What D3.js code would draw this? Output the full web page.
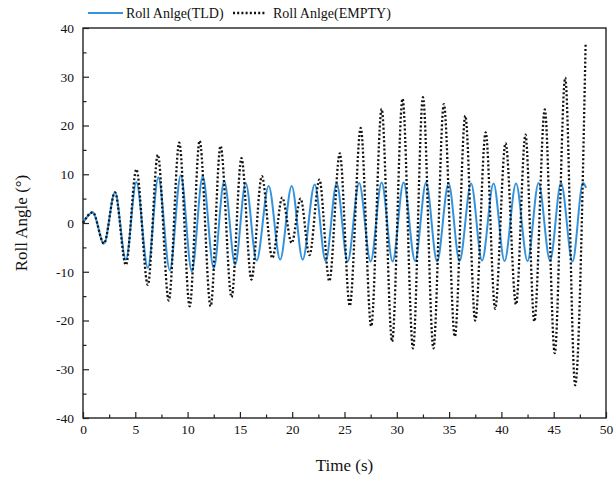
<!DOCTYPE html>
<html>
<head>
<meta charset="utf-8">
<script src="https://cdn.jsdelivr.net/npm/d3@7"></script>
<style>
  body { margin: 0; background: #fff; }
  svg { display: block; }
</style>
</head>
<body>
<div id="chart"></div>
<script>
// extrema (time in s, roll angle in degrees)
const tldTime = [0, 0.93, 2.0, 3.06, 4.1, 5.1, 6.2, 7.2, 8.3, 9.35, 10.4, 11.45, 12.5, 13.5, 14.55, 15.55,
  16.6, 17.75, 18.85, 19.95, 21.0, 22.15, 23.2, 24.25, 25.3, 26.4, 27.5, 28.55, 29.6, 30.65, 31.75,
  32.8, 33.85, 34.95, 36.0, 37.1, 38.15, 39.25, 40.3, 41.4, 42.5, 43.55, 44.65, 45.7, 46.8, 47.8, 48.1];
const tldAngle = [0, 2.2, -4.2, 6.3, -7.5, 8.4, -9.2, 9.4, -9.7, 9.8, -9.9, 9.6, -9.3, 8.6, -8.5, 8.2,
  -7.7, 7.6, -7.5, 7.6, -7.5, 7.9, -7.8, 8.1, -7.9, 8.2, -7.9, 8.3, -7.9, 8.3, -7.8,
  8.3, -7.9, 8.1, -7.8, 8.1, -7.7, 8.1, -7.8, 8.1, -7.8, 8.2, -7.7, 8.2, -7.9, 8.2, 7.2];

const emptyTime = [0, 0.93, 2.0, 3.06, 4.1, 5.1, 6.2, 7.15, 8.2, 9.2, 10.2, 11.15, 12.2, 13.15, 14.2, 15.15,
  16.1, 17.1, 18.1, 19.05, 19.95, 20.8, 21.65, 22.6, 23.55, 24.55, 25.5, 26.55, 27.55, 28.55, 29.55,
  30.55, 31.55, 32.5, 33.5, 34.5, 35.55, 36.55, 37.5, 38.5, 39.4, 40.4, 41.4, 42.3, 43.15, 44.15,
  45.1, 46.1, 47.05, 48.05];
const emptyAngle = [0, 2.2, -4.2, 6.3, -8.6, 11.0, -12.7, 14.0, -15.9, 16.5, -17.1, 16.9, -17.1, 15.8, -15.2, 13.3,
  -11.6, 9.6, -7.2, 5.2, -4.1, 5.0, -6.6, 8.9, -11.9, 14.3, -17.0, 19.5, -21.2, 23.4, -24.3,
  25.5, -25.7, 25.8, -25.7, 24.4, -23.3, 22.0, -20.0, 18.6, -17.6, 16.4, -16.7, 18.1, -20.2, 23.3,
  -26.7, 29.8, -33.3, 36.7];

const xTicks = [0, 5, 10, 15, 20, 25, 30, 35, 40, 45, 50];
const yTicks = [-40, -30, -20, -10, 0, 10, 20, 30, 40];
const seriesNames = ["Roll Anlge(TLD)", "Roll Anlge(EMPTY)"];

const BLUE = "#3592dc";
const FONT = "'Liberation Serif', 'Times New Roman', serif";

const width = 616, height = 482;
const margin = { left: 83, right: 10, top: 28, bottom: 64 };
const innerW = width - margin.left - margin.right;
const innerH = height - margin.top - margin.bottom;

const svg = d3.select("#chart").append("svg")
  .attr("width", width).attr("height", height)
  .style("font-family", FONT);

const x = d3.scaleLinear().domain([0, 50]).range([0, innerW]);
const y = d3.scaleLinear().domain([-40, 40]).range([innerH, 0]);

const g = svg.append("g").attr("transform", `translate(${margin.left},${margin.top})`);

// minor ticks
const xMinor = d3.range(2.5, 50, 5);
const yMinor = d3.range(-35, 40, 10);

g.append("g").attr("transform", `translate(0,${innerH})`)
  .call(d3.axisBottom(x).tickValues(xMinor).tickSize(-3.5).tickFormat(""))
  .call(a => a.select(".domain").remove())
  .selectAll("line").attr("stroke", "#222").attr("stroke-width", 1.2);

g.append("g")
  .call(d3.axisLeft(y).tickValues(yMinor).tickSize(-3.5).tickFormat(""))
  .call(a => a.select(".domain").remove())
  .selectAll("line").attr("stroke", "#222").attr("stroke-width", 1.2);

// plain hyphen for negatives, like the original
const fmt = d => String(d);

const xAxis = g.append("g").attr("transform", `translate(0,${innerH})`)
  .call(d3.axisBottom(x).tickValues(xTicks).tickSize(-6).tickPadding(6).tickFormat(fmt))
  .attr("font-family", FONT).attr("font-size", 13.5);
xAxis.select(".domain").remove();
xAxis.selectAll("line").attr("stroke", "#222").attr("stroke-width", 1.2);
xAxis.selectAll("text").attr("fill", "#111");

const yAxis = g.append("g")
  .call(d3.axisLeft(y).tickValues(yTicks).tickSize(-6).tickPadding(9).tickFormat(fmt))
  .attr("font-family", FONT).attr("font-size", 13.5);
yAxis.select(".domain").remove();
yAxis.selectAll("line").attr("stroke", "#222").attr("stroke-width", 1.2);
yAxis.selectAll("text").attr("fill", "#111");

// series
const line = d3.line().x(d => x(d[0])).y(d => y(d[1])).curve(d3.curveMonotoneX);
const tld = d3.zip(tldTime, tldAngle);
const empty = d3.zip(emptyTime, emptyAngle);

g.append("path").datum(tld)
  .attr("d", line).attr("fill", "none")
  .attr("stroke", BLUE).attr("stroke-width", 2);

g.append("path").datum(empty)
  .attr("d", line).attr("fill", "none")
  .attr("stroke", "#111").attr("stroke-width", 2.3)
  .attr("stroke-dasharray", "2,2.2");

// frame
g.append("rect").attr("width", innerW).attr("height", innerH)
  .attr("fill", "none").attr("stroke", "#222").attr("stroke-width", 1.4);

// axis titles
svg.append("text")
  .attr("x", margin.left + innerW / 2).attr("y", 471)
  .attr("text-anchor", "middle").attr("font-size", 17).attr("fill", "#111")
  .text("Time (s)");

svg.append("text")
  .attr("transform", `translate(27,${margin.top + innerH / 2}) rotate(-90)`)
  .attr("text-anchor", "middle").attr("font-size", 17).attr("fill", "#111")
  .text("Roll Angle (°)");

// legend
const leg = svg.append("g").attr("transform", "translate(88,13)");
leg.append("line").attr("x1", 0).attr("x2", 35).attr("y1", 0).attr("y2", 0)
  .attr("stroke", BLUE).attr("stroke-width", 2);
leg.append("text").attr("x", 38).attr("y", 4.5).attr("font-size", 14).attr("fill", "#111")
  .text(seriesNames[0]);
leg.append("line").attr("x1", 145).attr("x2", 177).attr("y1", 0).attr("y2", 0)
  .attr("stroke", "#111").attr("stroke-width", 2.3).attr("stroke-dasharray", "2,2.2");
leg.append("text").attr("x", 185).attr("y", 4.5).attr("font-size", 14).attr("fill", "#111")
  .text(seriesNames[1]);
</script>
</body>
</html>
